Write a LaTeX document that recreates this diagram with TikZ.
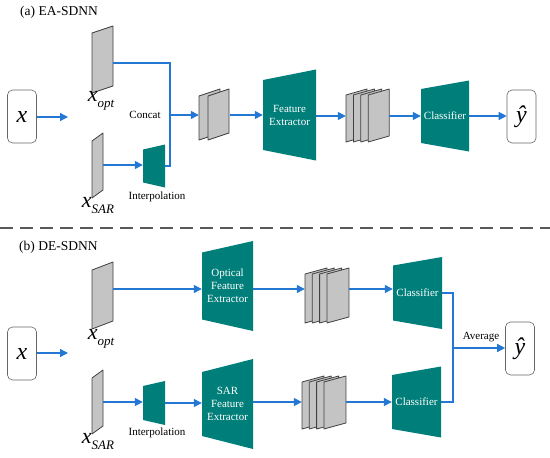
\documentclass[tikz,border=0pt]{standalone}
\usepackage{fontspec}
\setmainfont{Liberation Serif}
\usetikzlibrary{arrows.meta}
\definecolor{blockteal}{RGB}{0,127,122}
\definecolor{flowblue}{RGB}{36,120,212}
\definecolor{sheetgray}{RGB}{196,196,196}
\tikzset{
  flowarr/.style={-{Triangle[length=8pt,width=8pt]},line width=1.3pt,draw=flowblue},
  flowline/.style={line width=1.3pt,draw=flowblue},
  blocktxt/.style={text=white,align=center,font=\fontsize{11}{13}\selectfont,inner sep=0pt},
  fmap/.style={fill=sheetgray,draw=black!75,line width=0.8pt,line join=round},
  anchorbox/.style={inner sep=0pt,minimum height=10pt},
  iobox/.style={draw=black!60,rounded corners=5pt,line width=0.6pt,minimum width=29pt,minimum height=53pt,inner sep=0pt,font=\fontsize{24}{24}\selectfont\itshape},
  lbl/.style={font=\fontsize{11}{13}\selectfont,inner sep=1pt},
  xlbl/.style={font=\fontsize{22}{22}\selectfont\itshape,inner sep=0pt},
  ttl/.style={font=\fontsize{13.5}{16}\selectfont,anchor=west,inner sep=0pt},
  sepline/.style={draw=black!65,line width=2pt,dash pattern=on 13pt off 7pt}
}
% trapezoid block, wide side right: name, cx, cy, width, left h, right h, text
\newcommand{\featblock}[7]{%
  \fill[blockteal] ({#2-#4/2},{#3-#5/2}) -- ({#2+#4/2},{#3-#6/2}) -- ({#2+#4/2},{#3+#6/2}) -- ({#2-#4/2},{#3+#5/2}) -- cycle;
  \node[blocktxt,minimum width=#4pt,minimum height=#5pt] (#1) at (#2,#3) {#7};}
% one feature sheet: left x, top y, width, height, skew
\newcommand{\fmapsheet}[5]{%
  \filldraw[fmap] (#1,{#2+#5}) -- ({#1+#3},#2) -- ({#1+#3},{#2+#4-#5}) -- (#1,{#2+#4}) -- cycle;}
\newcommand{\xsub}[1]{\raisebox{-6pt}{\fontsize{13}{13}\selectfont #1}}

\begin{document}
\begin{tikzpicture}[x=1pt,y=-1pt]
\useasboundingbox (0,0) rectangle (550,458);

% ---------- (a) EA-SDNN
\node[ttl] (ttlA) at (20,12) {(a) EA-SDNN};
\node[iobox] (inA) at (22,116.5) {x};
\coordinate (splitA) at (68,117);
\draw[flowarr] (inA.east |- splitA) -- (splitA);

\fmapsheet{92}{26}{21}{67}{7}
\node[anchorbox,minimum width=21pt] (xoptA) at (102.5,63) {};
\node[xlbl] (xoptlblA) at (101,101) {x\xsub{opt}};
\fmapsheet{92}{133}{11}{65}{8}
\node[anchorbox,minimum width=11pt] (xsarA) at (97.5,165) {};
\node[xlbl] (xsarlblA) at (98,206) {x\xsub{SAR}};

\featblock{interpA}{154}{166}{22}{33}{43}{}
\node[lbl] (interplblA) at (157,197) {Interpolation};
\draw[flowarr] (xsarA.east) -- (xsarA.east -| interpA.west);

\coordinate (joinA) at (170,115);
\draw[flowline] (xoptA.east) -| (joinA |- interpA.east) -- (interpA.east);
\node[lbl] (catlblA) at (145,115) {Concat};

\foreach \k in {0,1} {\fmapsheet{199+9*\k}{89}{21}{51}{7}}
\node[anchorbox,minimum width=31pt] (mapcatA) at (214.5,115) {};
\draw[flowarr] (joinA) -- (joinA -| mapcatA.west);

\featblock{feA}{289.5}{115}{53}{70}{91}{Feature\\Extractor}
\draw[flowarr] (mapcatA.east) -- (mapcatA.east -| feA.west);

\foreach \k in {0,...,3} {\fmapsheet{346+7.4*\k}{89}{21}{53}{6}}
\node[anchorbox,minimum width=43pt] (mapsA) at (367.5,116) {};
\draw[flowarr] (feA.east |- mapsA.west) -- (mapsA.west);

\featblock{clsA}{445}{116}{48}{54}{71}{Classifier}
\draw[flowarr] (mapsA.east) -- (mapsA.east -| clsA.west);

\node[iobox] (outA) at (521.5,116.5) {ŷ};
\draw[flowarr] (clsA.east) -- (clsA.east -| outA.west);

% ---------- separator
\coordinate (sepL) at (0,228);
\coordinate (sepR) at (550,228);
\draw[sepline] (sepL) -- (sepR);

% ---------- (b) DE-SDNN
\node[ttl] (ttlB) at (19,247) {(b) DE-SDNN};
\node[iobox] (inB) at (22,353.5) {x};
\coordinate (splitB) at (68,353);
\draw[flowarr] (inB.east |- splitB) -- (splitB);

\fmapsheet{92}{262}{21}{67}{8}
\node[anchorbox,minimum width=21pt] (xoptB) at (102.5,289) {};
\node[xlbl] (xoptlblB) at (101,339) {x\xsub{opt}};
\fmapsheet{92}{370}{11}{64}{8}
\node[anchorbox,minimum width=11pt] (xsarB) at (97.5,402) {};
\node[xlbl] (xsarlblB) at (98,442) {x\xsub{SAR}};

\featblock{ofeB}{227.5}{286}{51}{67}{90}{Optical\\Feature\\Extractor}
\draw[flowarr] (xoptB.east) -- (xoptB.east -| ofeB.west);

\featblock{interpB}{154}{403}{22}{34}{44}{}
\node[lbl] (interplblB) at (157,433) {Interpolation};
\draw[flowarr] (xsarB.east) -- (xsarB.east -| interpB.west);

\featblock{sarfeB}{227.5}{404}{51}{64}{90}{SAR\\Feature\\Extractor}
\draw[flowarr] (interpB.east) -- (interpB.east -| sarfeB.west);

\foreach \k in {0,...,3} {\fmapsheet{305+7.3*\k}{268}{22}{55}{6}}
\node[anchorbox,minimum width=44pt] (mapsB1) at (327,289) {};
\draw[flowarr] (ofeB.east |- mapsB1.west) -- (mapsB1.west);
\foreach \k in {0,...,3} {\fmapsheet{302+7.3*\k}{376}{22}{53}{6}}
\node[anchorbox,minimum width=44pt] (mapsB2) at (324,402) {};
\draw[flowarr] (sarfeB.east |- mapsB2.west) -- (mapsB2.west);

\featblock{clsB1}{417.5}{293}{49}{55}{72}{Classifier}
\draw[flowarr] (mapsB1.east) -- (mapsB1.east -| clsB1.west);
\featblock{clsB2}{416.5}{402}{49}{54}{71}{Classifier}
\draw[flowarr] (mapsB2.east) -- (mapsB2.east -| clsB2.west);

\node[iobox] (outB) at (520,348.5) {ŷ};
\coordinate (avgB) at (453,348);
\draw[flowline] (clsB1.east) -| (avgB) |- (clsB2.east);
\draw[flowarr] (avgB) -- (avgB -| outB.west);
\node[lbl] (avglblB) at (481,337) {Average};
\end{tikzpicture}
\end{document}
